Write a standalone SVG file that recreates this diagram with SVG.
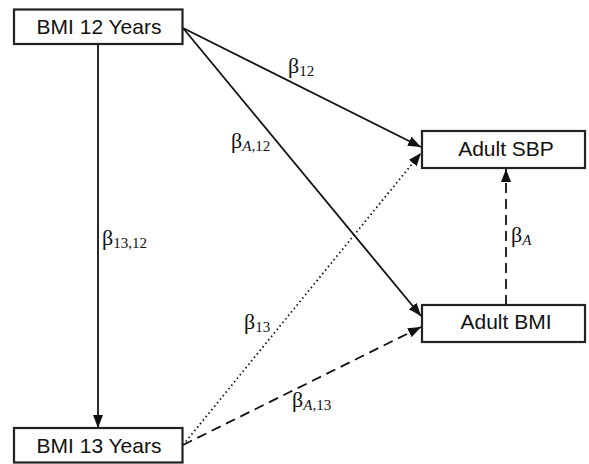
<svg xmlns="http://www.w3.org/2000/svg" width="589" height="464" viewBox="0 0 589 464">
<style>
.box{fill:#fff;stroke:#222;stroke-width:2.2}
.lbl{font-family:"Liberation Sans",Arial,sans-serif;font-size:21px;fill:#111;text-anchor:middle}
.edge{fill:none;stroke:#111;stroke-width:1.8}
.dash{stroke-dasharray:10 6}
.dot{stroke-dasharray:1.5 3}
.b{font-family:"Liberation Serif","Times New Roman",serif;font-size:22px;fill:#111}
.s{font-size:15px}
.i{font-style:italic}
</style>
<defs>
<marker id="ah" markerUnits="userSpaceOnUse" markerWidth="14" markerHeight="12" refX="13" refY="5" orient="auto">
<path d="M0,0 L13,5 L0,10 Z" fill="#111"/>
</marker>
</defs>
<g id="connectors">
<line class="edge" x1="98" y1="44" x2="98" y2="428" marker-end="url(#ah)"/>
<line class="edge" x1="183" y1="28" x2="421" y2="147" marker-end="url(#ah)"/>
<line class="edge" x1="183" y1="28" x2="421" y2="316" marker-end="url(#ah)"/>
<line class="edge dot" x1="183" y1="445" x2="421" y2="153" marker-end="url(#ah)"/>
<line class="edge dash" x1="183" y1="445" x2="421" y2="327" marker-end="url(#ah)"/>
<line class="edge dash" x1="506" y1="305" x2="506" y2="169" marker-end="url(#ah)"/>
<text class="b" x="288" y="73">β<tspan class="s" dy="3">12</tspan></text>
<text class="b" x="231" y="148">β<tspan class="s" dy="3"><tspan class="i">A</tspan>,12</tspan></text>
<text class="b" x="102" y="245">β<tspan class="s" dy="3">13,12</tspan></text>
<text class="b" x="244" y="329">β<tspan class="s" dy="3">13</tspan></text>
<text class="b" x="292" y="407">β<tspan class="s" dy="3"><tspan class="i">A</tspan>,13</tspan></text>
<text class="b" x="511" y="242">β<tspan class="s i" dy="3">A</tspan></text>
</g>
<g id="bmi12">
<rect class="box" x="14" y="9.5" width="168.5" height="34.5"/>
<text class="lbl" x="99" y="34">BMI 12 Years</text>
</g>
<g id="bmi13">
<rect class="box" x="14" y="428" width="168.5" height="34.5"/>
<text class="lbl" x="99" y="453">BMI 13 Years</text>
</g>
<g id="sbp">
<rect class="box" x="422" y="131" width="163" height="37"/>
<text class="lbl" x="506" y="156">Adult SBP</text>
</g>
<g id="adultbmi">
<rect class="box" x="422" y="305" width="163" height="37"/>
<text class="lbl" x="506" y="329">Adult BMI</text>
</g>
</svg>
